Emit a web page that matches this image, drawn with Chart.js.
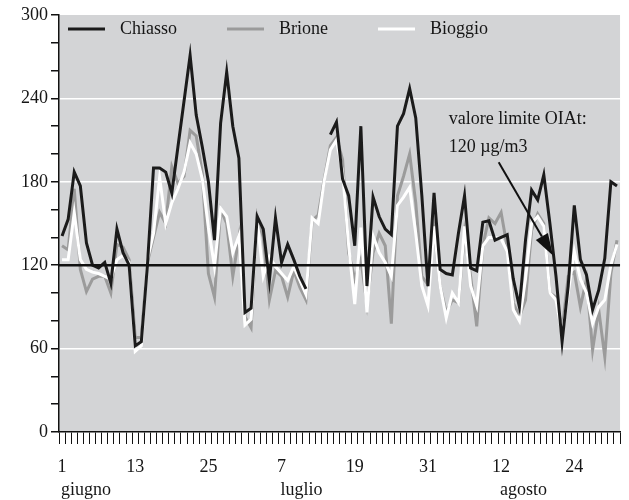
<!DOCTYPE html>
<html>
<head>
<meta charset="utf-8">
<script src="https://cdn.jsdelivr.net/npm/chart.js@4.4.1/dist/chart.umd.min.js"></script>
<style>
  html, body { margin: 0; padding: 0; background: #fff; }
</style>
</head>
<body>
<canvas id="ozoneChart" width="629" height="500"></canvas>
<script>
// days June 1 .. August 31
const monthLengths = [30, 31, 31]
const days = []
monthLengths.forEach(n => { for (let d = 1; d <= n; d++) days.push(String(d)) })

const months = ['giugno', 'luglio', 'agosto']
const monthLabelIndex = [0, 36, 72]

// daily ozone max, µg/m3
const chiasso = [
  141, 153, 187, 177, 136, 120, 118, 122, 107, 146, 129, 120, 62, 65, 120, 190,
  190, 187, 172, 205, 238, 271, 228, 205, 180, 138, 222, 259, 220, 197, 86, 89,
  155, 146, 109, 154, 122, 135, 124, 112, 103, null, null, null, 214, 223, 182, 170,
  134, 220, 105, 169, 155, 146, 142, 220, 229, 247, 226, 170, 105, 172, 117, 114,
  113, 143, 170, 118, 116, 151, 152, 138, 140, 142, 110, 90, 138, 174, 167, 185,
  150, 112, 65, 105, 163, 124, 113, 88, 102, 125, 180, 177
]
const brione = [
  134, 131, 175, 117, 101, 110, 112, 112, 100, 135, 133, 124, 68, 68, 122, 140,
  158, 150, 191, 179, 184, 217, 213, 186, 114, 97, 160, 150, 112, 140, 83, 75,
  155, 140, 95, 116, 112, 97, 116, 104, 95, 152, 156, 182, 206, 212, 196, 129,
  110, 124, 92, 129, 143, 134, 78, 170, 184, 200, 165, 112, 106, 147, 105, 86,
  95, 93, 143, 112, 76, 134, 154, 150, 158, 133, 93, 83, 95, 145, 157, 150,
  100, 97, 73, 112, 115, 90, 110, 59, 88, 54, 114, 138
]
const bioggio = [
  124, 124, 158, 124, 117, 115, 114, 112, 110, 124, 127, 122, 58, 62, 124, 143,
  183, 150, 165, 175, 187, 208, 200, 182, 147, 119, 161, 155, 129, 141, 77, 81,
  152, 112, 126, 119, 114, 109, 119, 109, 99, 154, 150, 181, 203, 210, 187, 134,
  92, 147, 86, 141, 129, 122, 112, 163, 169, 176, 143, 105, 91, 148, 105, 82,
  100, 93, 148, 105, 91, 134, 140, 140, 139, 130, 88, 80, 110, 150, 155, 148,
  100, 95, 70, 100, 130, 110, 100, 78, 90, 95, 120, 135
]

const limitValue = 120
const limitText = ['valore limite OIAt:', '120 \u00b5g/m3']
const whiteGridValues = [60, 180, 240]

const serif = "'Liberation Serif', 'Times New Roman', serif"
const textColor = '#161616'
const colChiasso = '#1b1b1b'
const colBrione = '#9b9b9b'
const colBioggio = '#ffffff'

Chart.defaults.font.family = serif
Chart.defaults.font.size = 18
Chart.defaults.color = textColor

const decorPlugin = {
  id: 'decor',
  beforeDraw (chart) {
    const { ctx, chartArea: a } = chart
    ctx.save()
    ctx.fillStyle = '#d3d4d6'
    ctx.fillRect(a.left, a.top, a.right - a.left, a.bottom - a.top)
    ctx.restore()
  },
  afterDatasetsDraw (chart) {
    const { ctx, chartArea: a } = chart
    const xs = chart.scales.x
    const ys = chart.scales.y
    ctx.save()

    // limit line
    const yl = ys.getPixelForValue(limitValue)
    ctx.strokeStyle = '#111'
    ctx.lineWidth = 2.5
    ctx.beginPath()
    ctx.moveTo(a.left, yl)
    ctx.lineTo(a.right, yl)
    ctx.stroke()

    // annotation text
    ctx.fillStyle = textColor
    ctx.font = '18px ' + serif
    ctx.textAlign = 'left'
    ctx.textBaseline = 'middle'
    const tx = xs.getPixelForValue(63.4)
    ctx.fillText(limitText[0], tx, ys.getPixelForValue(225))
    ctx.fillText(limitText[1], tx, ys.getPixelForValue(205))

    // arrow
    const x0 = xs.getPixelForValue(71.6)
    const y0 = ys.getPixelForValue(194)
    const x1 = xs.getPixelForValue(80.5)
    const y1 = ys.getPixelForValue(127)
    const ang = Math.atan2(y1 - y0, x1 - x0)
    const headLen = 22
    const headHalf = 7
    const bx = x1 - headLen * Math.cos(ang)
    const by = y1 - headLen * Math.sin(ang)
    ctx.strokeStyle = '#111'
    ctx.lineWidth = 2
    ctx.beginPath()
    ctx.moveTo(x0, y0)
    ctx.lineTo(bx, by)
    ctx.stroke()
    ctx.fillStyle = '#111'
    ctx.beginPath()
    ctx.moveTo(x1, y1)
    ctx.lineTo(bx + headHalf * Math.sin(ang), by - headHalf * Math.cos(ang))
    ctx.lineTo(bx - headHalf * Math.sin(ang), by + headHalf * Math.cos(ang))
    ctx.closePath()
    ctx.fill()

    // legend
    const items = [
      { label: 'Chiasso', color: colChiasso, x: 68 },
      { label: 'Brione', color: colBrione, x: 227 },
      { label: 'Bioggio', color: colBioggio, x: 378 }
    ]
    const ly = 29
    items.forEach(it => {
      ctx.strokeStyle = it.color
      ctx.lineWidth = 3
      ctx.beginPath()
      ctx.moveTo(it.x, ly)
      ctx.lineTo(it.x + 37, ly)
      ctx.stroke()
      ctx.fillStyle = textColor
      ctx.fillText(it.label, it.x + 52, ly)
    })

    // month names under the day numbers
    months.forEach((m, i) => {
      ctx.fillText(m, xs.getPixelForValue(monthLabelIndex[i]) - 1, 490)
    })
    ctx.restore()
  }
}

const ctx = document.getElementById('ozoneChart').getContext('2d')
const chart = new Chart(ctx, {
  type: 'line',
  data: {
    labels: days,
    datasets: [
      { label: 'Chiasso', data: chiasso, borderColor: colChiasso },
      { label: 'Bioggio', data: bioggio, borderColor: colBioggio },
      { label: 'Brione', data: brione, borderColor: colBrione }
    ]
  },
  options: {
    responsive: false,
    animation: false,
    devicePixelRatio: 1,
    spanGaps: false,
    elements: {
      line: { borderWidth: 3, tension: 0, borderJoinStyle: 'miter' },
      point: { radius: 0, hoverRadius: 0 }
    },
    layout: { padding: { top: 15, right: 3, left: 0, bottom: 0 } },
    scales: {
      x: {
        type: 'category',
        offset: true,
        grid: {
          offset: true,
          drawOnChartArea: false,
          drawTicks: true,
          tickLength: 12,
          tickColor: '#111',
          tickWidth: 1
        },
        border: { display: true, color: '#111', width: 1.5 },
        ticks: {
          autoSkip: false,
          maxRotation: 0,
          padding: 12,
          color: textColor,
          callback: (val, idx) => (idx % 12 === 0 ? days[idx] : '')
        },
        afterFit: s => { s.height = 68 }
      },
      y: {
        min: 0,
        max: 300,
        ticks: {
          stepSize: 20,
          padding: 3,
          color: textColor,
          callback: v => (v % 60 === 0 ? v : '')
        },
        grid: {
          color: c => (whiteGridValues.includes(c.tick.value) ? '#ffffff' : 'rgba(0,0,0,0)'),
          lineWidth: 1.5,
          tickColor: '#111',
          tickLength: 8,
          drawTicks: true
        },
        border: { display: true, color: '#111', width: 1.5 },
        afterFit: s => { s.width = 59 }
      }
    },
    plugins: {
      legend: { display: false },
      tooltip: { enabled: false }
    }
  },
  plugins: [decorPlugin]
})
</script>
</body>
</html>
